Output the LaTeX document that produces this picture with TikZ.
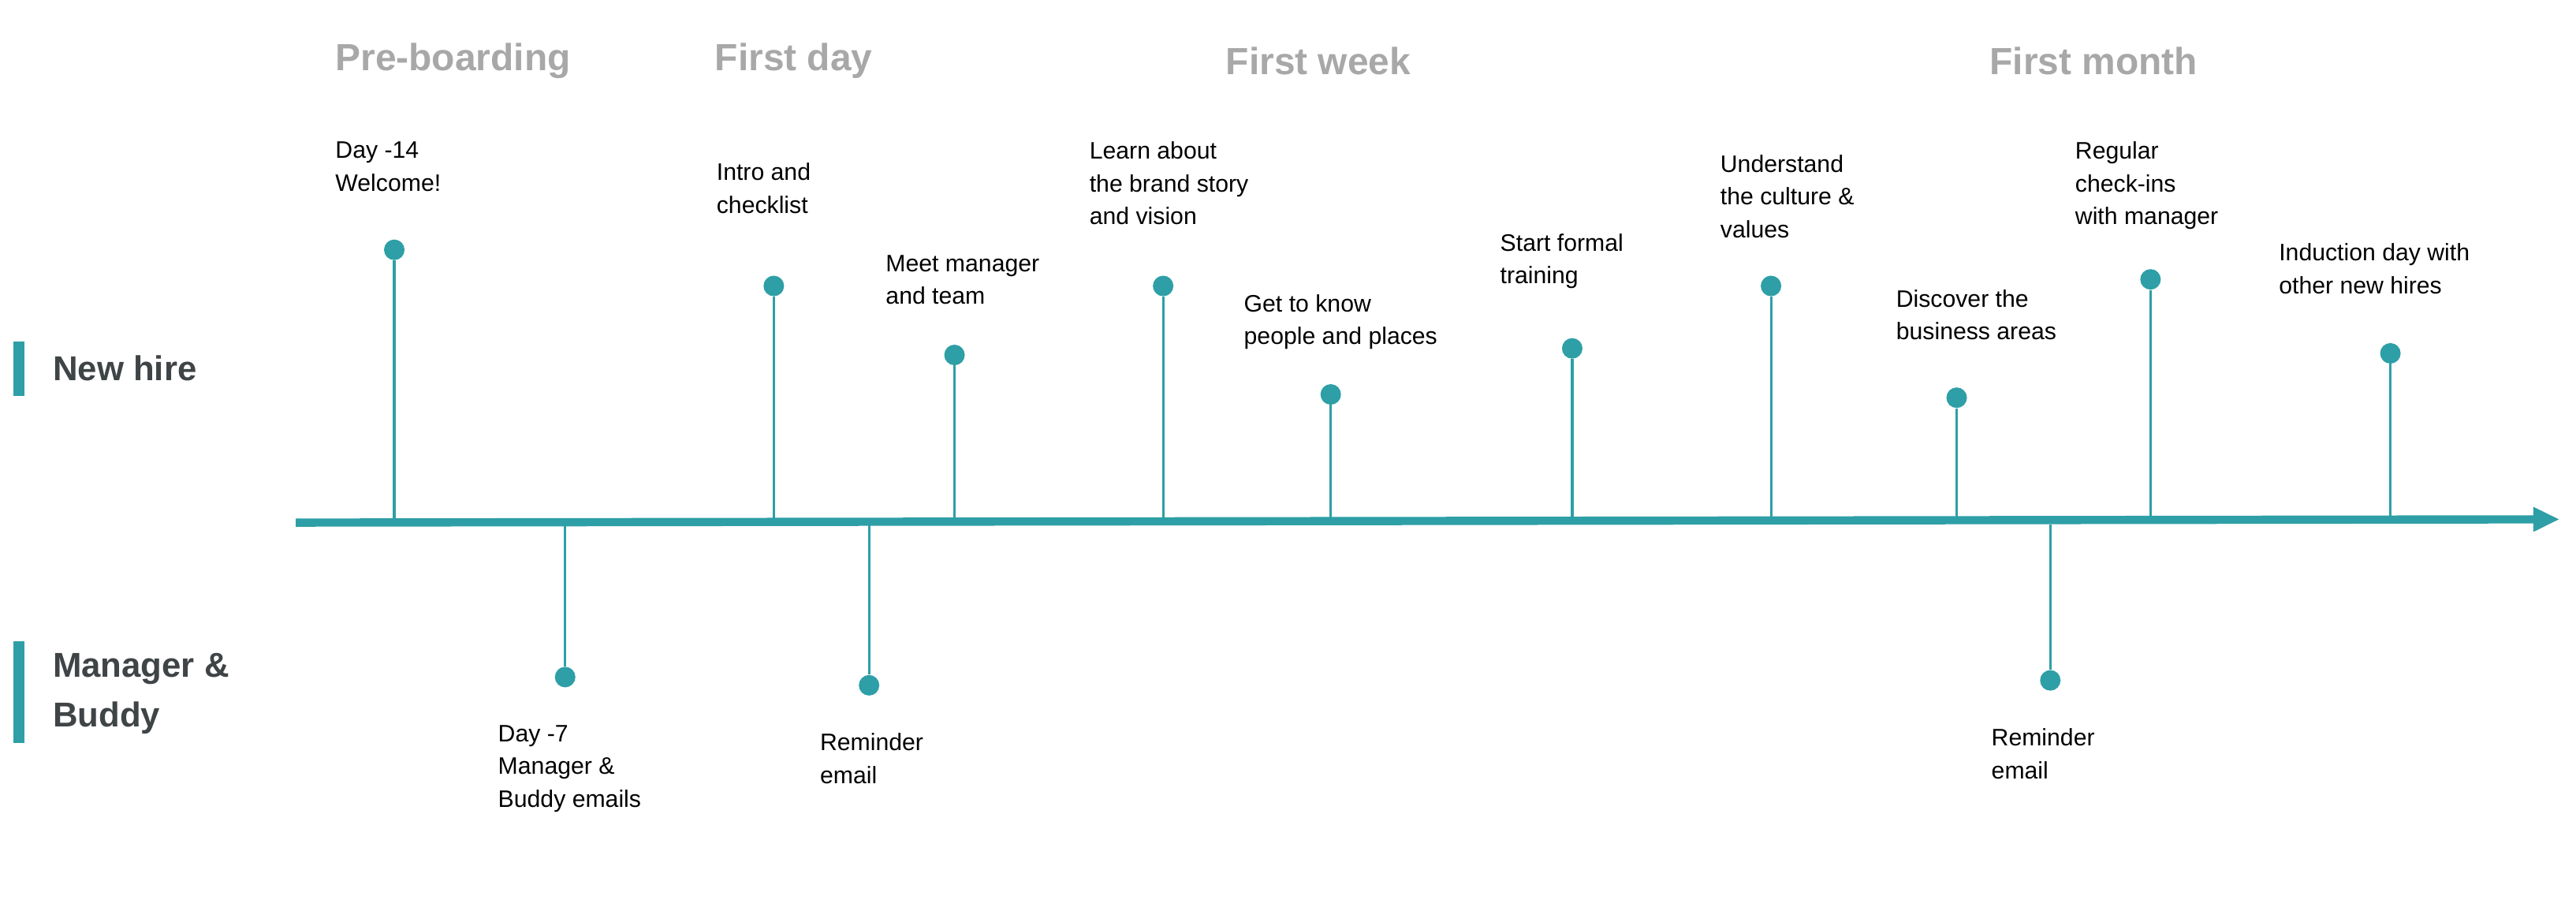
\documentclass[tikz,border=0pt]{standalone}
\usepackage{fontspec}
\setmainfont{Liberation Sans}
\usetikzlibrary{arrows.meta}
\definecolor{teal}{HTML}{2E9FA6}
\definecolor{hgrey}{HTML}{A8A8A8}
\definecolor{dgrey}{HTML}{3F4446}
\begin{document}
\begin{tikzpicture}[x=1pt,y=-1pt,
  lbl/.style={anchor=north west,inner sep=0pt,align=left,font=\fontsize{14.5}{20}\selectfont,text=black},
  head/.style={anchor=west,inner sep=0pt,font=\bfseries\fontsize{23}{26}\selectfont,text=hgrey},
  lane/.style={anchor=west,inner sep=0pt,align=left,font=\bfseries\fontsize{21}{30}\selectfont,text=dgrey},
  dot/.style={circle,fill=teal,inner sep=0pt,minimum size=12.5pt},
  stem/.style={draw=teal,line width=1.5pt}]
\useasboundingbox (0,0) rectangle (1568,554);
\fill[teal] (8,208) rectangle (15,241);
\fill[teal] (8,390) rectangle (15,452);
\node[lane] (nh) at (32,224) {New hire};
\node[lane] (mb) at (32,422) {Manager \&\\Buddy};
\node[head] (h1) at (204,37) {Pre-boarding};
\node[head] (h2) at (435,37) {First day};
\node[head] (h3) at (746,37) {First week};
\node[head] (h4) at (1211,37) {First month};
\coordinate (s) at (180,318);
\coordinate (e) at (1558,316);
\draw[teal,line width=5pt,-{Triangle[length=16pt,width=14pt]}] (s) -- (e);
\foreach \n/\x/\y in {a/240/152,b/471/174,c/581/216,d/708/174,f/810/240,g/957/212,h/1078/174,i/1191/242,j/1309/170,k/1455/215}{
  \coordinate (\n0) at (\x,317);
  \node[dot] (\n) at (\x,\y) {};
  \draw[stem] (\n) -- (\n0);
}
\foreach \n/\x/\y in {l/344/412,m/529/417,o/1248/414}{
  \coordinate (\n0) at (\x,319);
  \node[dot] (\n) at (\x,\y) {};
  \draw[stem] (\n) -- (\n0);
}
\node[lbl] (ta) at (204,86) {Day -14\\Welcome!};
\node[lbl] (tb) at (436,99) {Intro and\\checklist};
\node[lbl] (tc) at (539,155) {Meet manager\\and team};
\node[lbl] (td) at (663,86) {Learn about\\the brand story\\and vision};
\node[lbl] (tf) at (757,179) {Get to know\\people and places};
\node[lbl] (tg) at (913,142) {Start formal\\training};
\node[lbl] (th) at (1047,94) {Understand\\the culture \&\\values};
\node[lbl] (ti) at (1154,176) {Discover the\\business areas};
\node[lbl] (tj) at (1263,86) {Regular\\check-ins\\with manager};
\node[lbl] (tk) at (1387,148) {Induction day with\\other new hires};
\node[lbl] (tl) at (303,441) {Day -7\\Manager \&\\Buddy emails};
\node[lbl] (tm) at (499,446) {Reminder\\email};
\node[lbl] (to) at (1212,443) {Reminder\\email};
\end{tikzpicture}
\end{document}
